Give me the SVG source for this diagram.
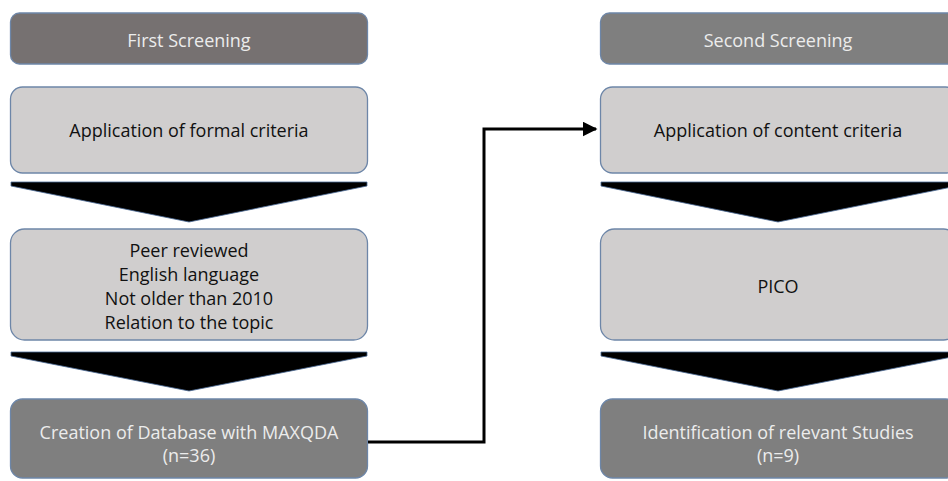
<svg xmlns="http://www.w3.org/2000/svg" width="948" height="481" viewBox="0 0 948 481">
<style>
  .box{stroke:#6d86a8;stroke-width:1.3}
  .hdrL{fill:#767171}
  .hdr{fill:#7f7f7f}
  .light{fill:#d0cece}
  .dark{fill:#7f7f7f}
  .chev{fill:#000;stroke:#4a6a96;stroke-width:0.8}
  text{font-family:"Open Sans","Liberation Sans",sans-serif;font-size:18px;text-anchor:middle;dominant-baseline:central}
  .wt{fill:#ececec}
  .bt{fill:#111}
  .conn{fill:none;stroke:#000;stroke-width:3}
</style>
<defs>
  <marker id="arr" markerWidth="5" markerHeight="5" refX="4.5" refY="2.5" orient="auto" markerUnits="strokeWidth">
    <path d="M0,0 L5,2.5 L0,5 Z" fill="#000"/>
  </marker>
</defs>

<g id="first-screening">
  <rect class="box hdrL" x="10.5" y="13" width="357" height="51" rx="9"/>
  <text class="wt" x="189" y="40">First Screening</text>
</g>
<g id="formal-criteria">
  <rect class="box light" x="10.5" y="87" width="357" height="86" rx="12"/>
  <text class="bt" x="189" y="130">Application of formal criteria</text>
</g>
<g id="chevron-l1">
  <polygon class="chev" points="11,182 367,182 367,186 189,222 11,186"/>
</g>
<g id="criteria-list">
  <rect class="box light" x="10.5" y="229" width="357" height="111" rx="14"/>
  <text class="bt" x="189" y="250">Peer reviewed</text>
  <text class="bt" x="189" y="274">English language</text>
  <text class="bt" x="189" y="298">Not older than 2010</text>
  <text class="bt" x="189" y="322">Relation to the topic</text>
</g>
<g id="chevron-l2">
  <polygon class="chev" points="11,352 367,352 367,356 189,391 11,356"/>
</g>
<g id="database">
  <rect class="box dark" x="10.5" y="399" width="357" height="79" rx="12"/>
  <text class="wt" x="189" y="432">Creation of Database with MAXQDA</text>
  <text class="wt" x="189" y="455">(n=36)</text>
</g>

<g id="second-screening">
  <rect class="box hdr" x="600.5" y="13" width="357" height="51" rx="9"/>
  <text class="wt" x="778" y="40">Second Screening</text>
</g>
<g id="content-criteria">
  <rect class="box light" x="600.5" y="87" width="357" height="86" rx="12"/>
  <text class="bt" x="778" y="130">Application of content criteria</text>
</g>
<g id="chevron-r1">
  <polygon class="chev" points="601,182 957,182 957,186 778,222 601,186"/>
</g>
<g id="pico">
  <rect class="box light" x="600.5" y="229" width="357" height="111" rx="14"/>
  <text class="bt" x="778" y="286">PICO</text>
</g>
<g id="chevron-r2">
  <polygon class="chev" points="601,352 957,352 957,356 778,391 601,356"/>
</g>
<g id="relevant-studies">
  <rect class="box dark" x="600.5" y="399" width="357" height="79" rx="12"/>
  <text class="wt" x="778" y="432">Identification of relevant Studies</text>
  <text class="wt" x="778" y="455">(n=9)</text>
</g>

<g id="connectors">
  <path class="conn" d="M368,442 H484 V129 H596" marker-end="url(#arr)"/>
</g>
</svg>
